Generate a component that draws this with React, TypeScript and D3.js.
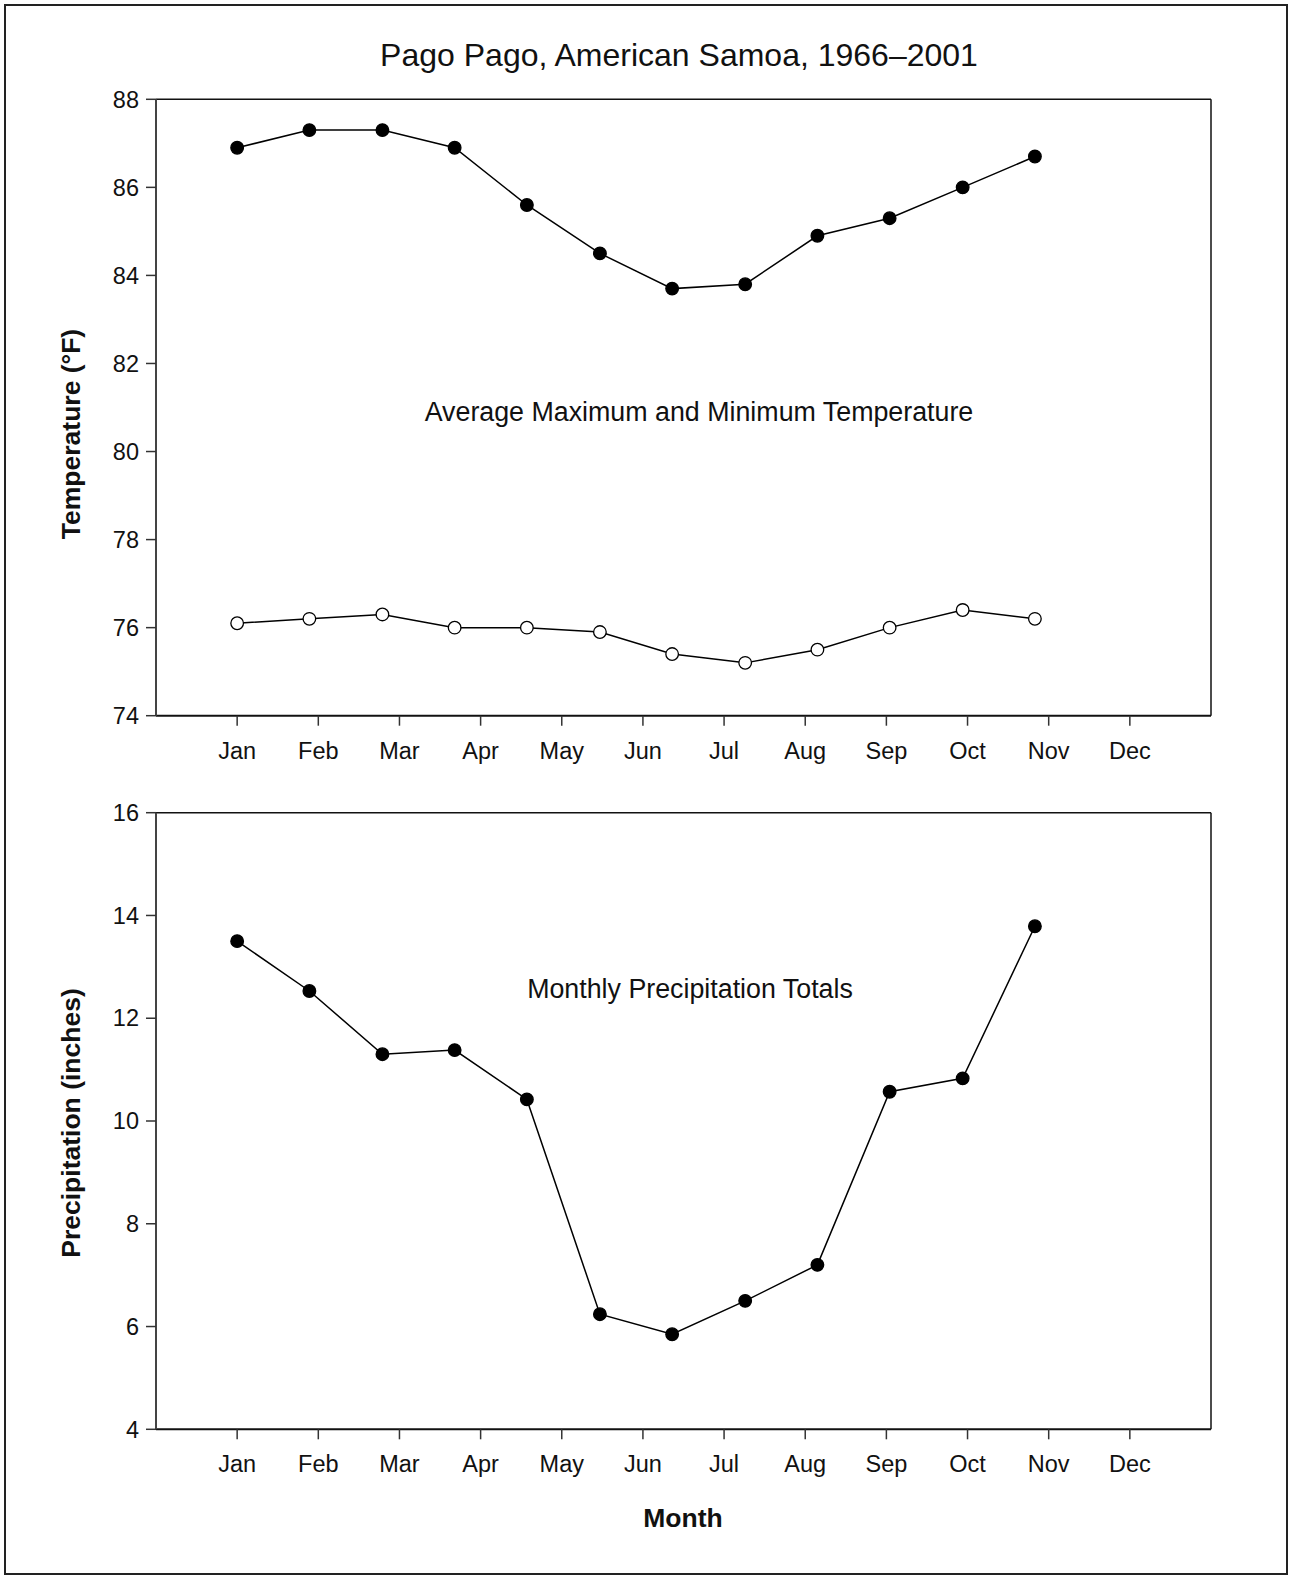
import React from "react";
import * as d3 from "d3";

const months = ["Jan", "Feb", "Mar", "Apr", "May", "Jun", "Jul", "Aug", "Sep", "Oct", "Nov", "Dec"];
// horizontal position of each data point, in month-axis units (points are not aligned with ticks)
const pointPos = [1.0, 1.89, 2.79, 3.68, 4.57, 5.47, 6.36, 7.26, 8.15, 9.04, 9.94, 10.83];
const maxTemp = [86.9, 87.3, 87.3, 86.9, 85.6, 84.5, 83.7, 83.8, 84.9, 85.3, 86.0, 86.7];
const minTemp = [76.1, 76.2, 76.3, 76.0, 76.0, 75.9, 75.4, 75.2, 75.5, 76.0, 76.4, 76.2];
const precip = [13.5, 12.53, 11.3, 11.38, 10.42, 6.24, 5.85, 6.5, 7.2, 10.57, 10.83, 13.79];
const tempTicks = [74, 76, 78, 80, 82, 84, 86, 88];
const precipTicks = [4, 6, 8, 10, 12, 14, 16];

const FONT = "'Liberation Sans', Arial, sans-serif";
const W = 1290;
const H = 1579;
const left = 156;
const right = 1211;

type Series = { values: number[]; filled: boolean };

function Panel({ top, bottom, domain, ticks, series, note, noteX, noteY }: {
  top: number; bottom: number; domain: [number, number]; ticks: number[];
  series: Series[]; note: string; noteX: number; noteY: number;
}) {
  const x = d3.scaleLinear().domain([0, 13]).range([left, right]);
  const y = d3.scaleLinear().domain(domain).range([bottom, top]);
  const line = d3.line<number>().x((_, i) => x(pointPos[i])).y((d) => y(d));
  return (
    <g>
      <line x1={left} x2={right} y1={top} y2={top} stroke="#111" strokeWidth={1.5} />
      <line x1={right} x2={right} y1={top} y2={bottom} stroke="#111" strokeWidth={1.5} />
      <line x1={left} x2={right} y1={bottom} y2={bottom} stroke="#111" strokeWidth={2} />
      <line x1={left} x2={left} y1={top} y2={bottom} stroke="#444" strokeWidth={2} />
      {ticks.map((t) => (
        <g key={t}>
          <line x1={left - 10} x2={left} y1={y(t)} y2={y(t)} stroke="#333" strokeWidth={1.5} />
          <text x={139} y={y(t)} dy="0.35em" textAnchor="end" fontSize={23.5} fontFamily={FONT} fill="#111">{t}</text>
        </g>
      ))}
      {months.map((m, i) => (
        <g key={m}>
          <line x1={x(i + 1)} x2={x(i + 1)} y1={bottom} y2={bottom + 10} stroke="#333" strokeWidth={1.5} />
          <text x={x(i + 1)} y={bottom + 43} textAnchor="middle" fontSize={23.5} fontFamily={FONT} fill="#111">{m}</text>
        </g>
      ))}
      {series.map((s, k) => (
        <g key={k}>
          <path d={line(s.values) || ""} fill="none" stroke="#000" strokeWidth={1.5} />
          {s.values.map((v, i) => (
            <circle key={i} cx={x(pointPos[i])} cy={y(v)} r={6.3}
              fill={s.filled ? "#000" : "#fff"} stroke="#000" strokeWidth={1.3} />
          ))}
        </g>
      ))}
      <text x={noteX} y={noteY} textAnchor="middle" fontSize={26.8} fontFamily={FONT} fill="#111">{note}</text>
    </g>
  );
}

export default function App() {
  return (
    <svg width={W} height={H} style={{ position: "absolute", left: 0, top: 0, background: "#fff" }}>
      <rect x={0} y={0} width={W} height={H} fill="#fff" />
      <rect x={5} y={5} width={1282} height={1569} fill="none" stroke="#222" strokeWidth={2} />
      <text x={679} y={66} textAnchor="middle" fontSize={32} fontFamily={FONT} fill="#111">
        Pago Pago, American Samoa, 1966–2001
      </text>
      <Panel top={99.3} bottom={715.7} domain={[74, 88]} ticks={tempTicks}
        series={[{ values: maxTemp, filled: true }, { values: minTemp, filled: false }]}
        note="Average Maximum and Minimum Temperature" noteX={699} noteY={421} />
      <Panel top={812.7} bottom={1429.3} domain={[4, 16]} ticks={precipTicks}
        series={[{ values: precip, filled: true }]}
        note="Monthly Precipitation Totals" noteX={690} noteY={998} />
      <text transform="translate(79.5,434) rotate(-90)" textAnchor="middle" fontSize={26.5} fontWeight="bold" fontFamily={FONT} fill="#111">
        Temperature (°F)
      </text>
      <text transform="translate(79.5,1123) rotate(-90)" textAnchor="middle" fontSize={26.5} fontWeight="bold" fontFamily={FONT} fill="#111">
        Precipitation (inches)
      </text>
      <text x={683} y={1527} textAnchor="middle" fontSize={26.5} fontWeight="bold" fontFamily={FONT} fill="#111">
        Month
      </text>
    </svg>
  );
}
